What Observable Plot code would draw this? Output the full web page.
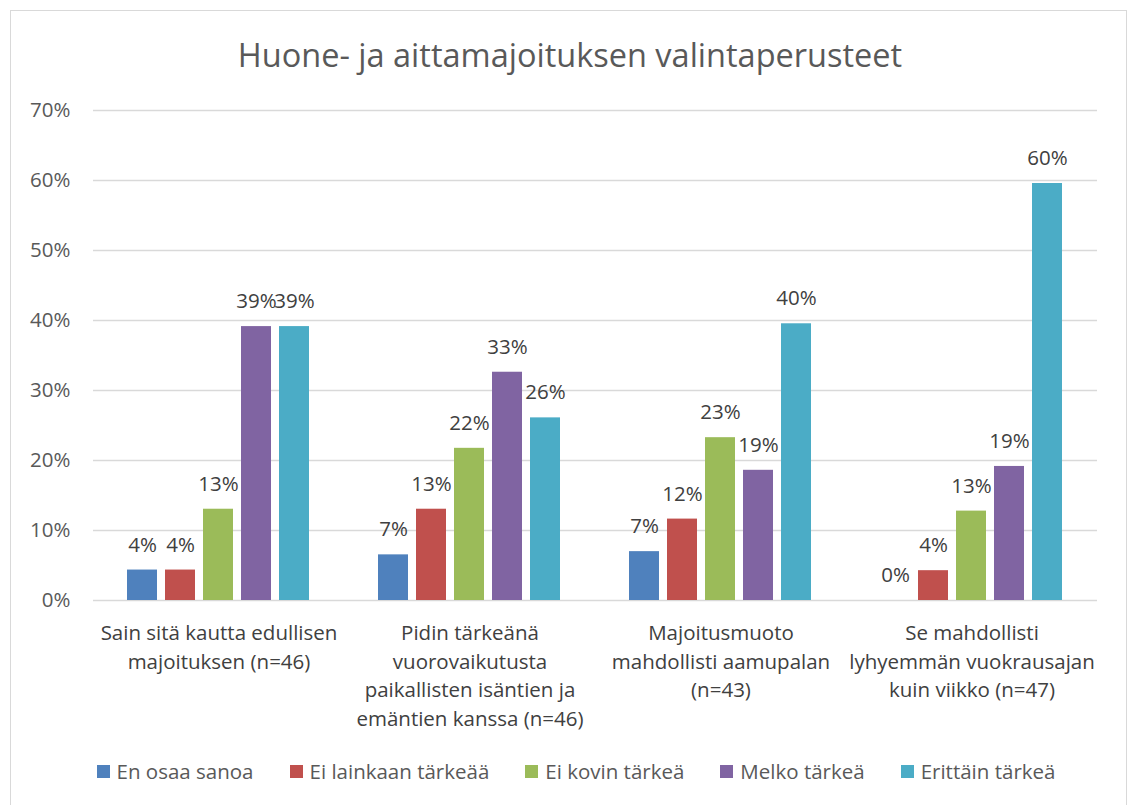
<!DOCTYPE html>
<html>
<head>
<meta charset="utf-8">
<script src="https://cdn.jsdelivr.net/npm/d3@7"></script>
<script src="https://cdn.jsdelivr.net/npm/@observablehq/plot@0.6"></script>
<style>
  html, body { margin: 0; padding: 0; background: #fff; }
  #page { position: relative; width: 1128px; height: 805px; overflow: hidden; font-family: "Open Sans", sans-serif; }
  #frame { position: absolute; left: 10px; top: 10px; width: 1117px; height: 820px; border: 1px solid #d9d9d9; box-sizing: border-box; }
  #title { position: absolute; left: 10px; width: 1120px; top: 33px; text-align: center; font-size: 32.5px; color: #595959; line-height: 44px; }
  #chart { position: absolute; left: 0; top: 90px; }
  #legend { position: absolute; left: 10px; width: 1132px; top: 757px; display: flex; justify-content: center; gap: 36px; font-size: 20.5px; color: #595959; line-height: 28px; }
  .item { display: flex; align-items: center; gap: 7px; }
  .sw { width: 13px; height: 13px; display: inline-block; }
</style>
</head>
<body>
<div id="page">
  <div id="frame"></div>
  <div id="title"></div>
  <div id="chart"></div>
  <div id="legend"></div>
</div>
<script>
const titleText = "Huone- ja aittamajoituksen valintaperusteet";
const categories = ["c1", "c2", "c3", "c4"];
const categoryLines = [
  ["Sain sitä kautta edullisen", "majoituksen (n=46)"],
  ["Pidin tärkeänä", "vuorovaikutusta", "paikallisten isäntien ja", "emäntien kanssa (n=46)"],
  ["Majoitusmuoto", "mahdollisti aamupalan", "(n=43)"],
  ["Se mahdollisti", "lyhyemmän vuokrausajan", "kuin viikko (n=47)"]
];
const series = ["En osaa sanoa", "Ei lainkaan tärkeää", "Ei kovin tärkeä", "Melko tärkeä", "Erittäin tärkeä"];
const colors = ["#4F81BD", "#C0504D", "#9BBB59", "#8064A2", "#4BACC6"];
const enOsaaSanoa = [4.35, 6.52, 6.98, 0];
const eiLainkaanTarkeaa = [4.35, 13.04, 11.63, 4.26];
const eiKovinTarkea = [13.04, 21.74, 23.26, 12.77];
const melkoTarkea = [39.13, 32.61, 18.60, 19.15];
const erittainTarkea = [39.13, 26.09, 39.53, 59.57];
const yTicks = [0, 10, 20, 30, 40, 50, 60, 70];

const valuesBySeries = [enOsaaSanoa, eiLainkaanTarkeaa, eiKovinTarkea, melkoTarkea, erittainTarkea];
const data = categories.flatMap((c, i) => series.map((s, j) => ({cat: c, series: s, value: valuesBySeries[j][i]})));

document.getElementById("title").textContent = titleText;

const chart = Plot.plot({
  width: 1128,
  height: 650,
  marginTop: 20,
  marginBottom: 140,
  marginLeft: 91,
  marginRight: 30,
  style: {fontFamily: "'Open Sans', sans-serif", fontSize: "20px", background: "transparent"},
  fx: {domain: categories, padding: 0, label: null, axis: null},
  x: {domain: series, paddingInner: 0.205, paddingOuter: 0.83, axis: null},
  y: {domain: [0, 70], label: null, axis: null},
  color: {domain: series, range: colors},
  marks: [
    Plot.ruleY(yTicks, {stroke: "#d9d9d9", strokeWidth: 1.3}),
    Plot.barY(data, {fx: "cat", x: "series", y: "value", fill: "series"}),
    Plot.text(data, {fx: "cat", x: "series", y: "value", text: d => Math.round(d.value) + "%", dy: -25, fill: "#404040", fontSize: 20.5}),
    Plot.axisY(yTicks, {tickSize: 0, tickPadding: 23, tickFormat: d => d + "%", label: null, fontSize: 20.5, color: "#595959"}),
    Plot.axisFx({anchor: "bottom", tickSize: 0, tickPadding: 19, tickFormat: d => categoryLines[categories.indexOf(d)].join("\n"), lineHeight: 1.4, fontSize: 20.5, label: null, color: "#404040"})
  ]
});
document.getElementById("chart").appendChild(chart);

const legend = document.getElementById("legend");
series.forEach((s, i) => {
  const item = document.createElement("div");
  item.className = "item";
  const sw = document.createElement("span");
  sw.className = "sw";
  sw.style.background = colors[i];
  const t = document.createElement("span");
  t.textContent = s;
  item.appendChild(sw);
  item.appendChild(t);
  legend.appendChild(item);
});
</script>
</body>
</html>
